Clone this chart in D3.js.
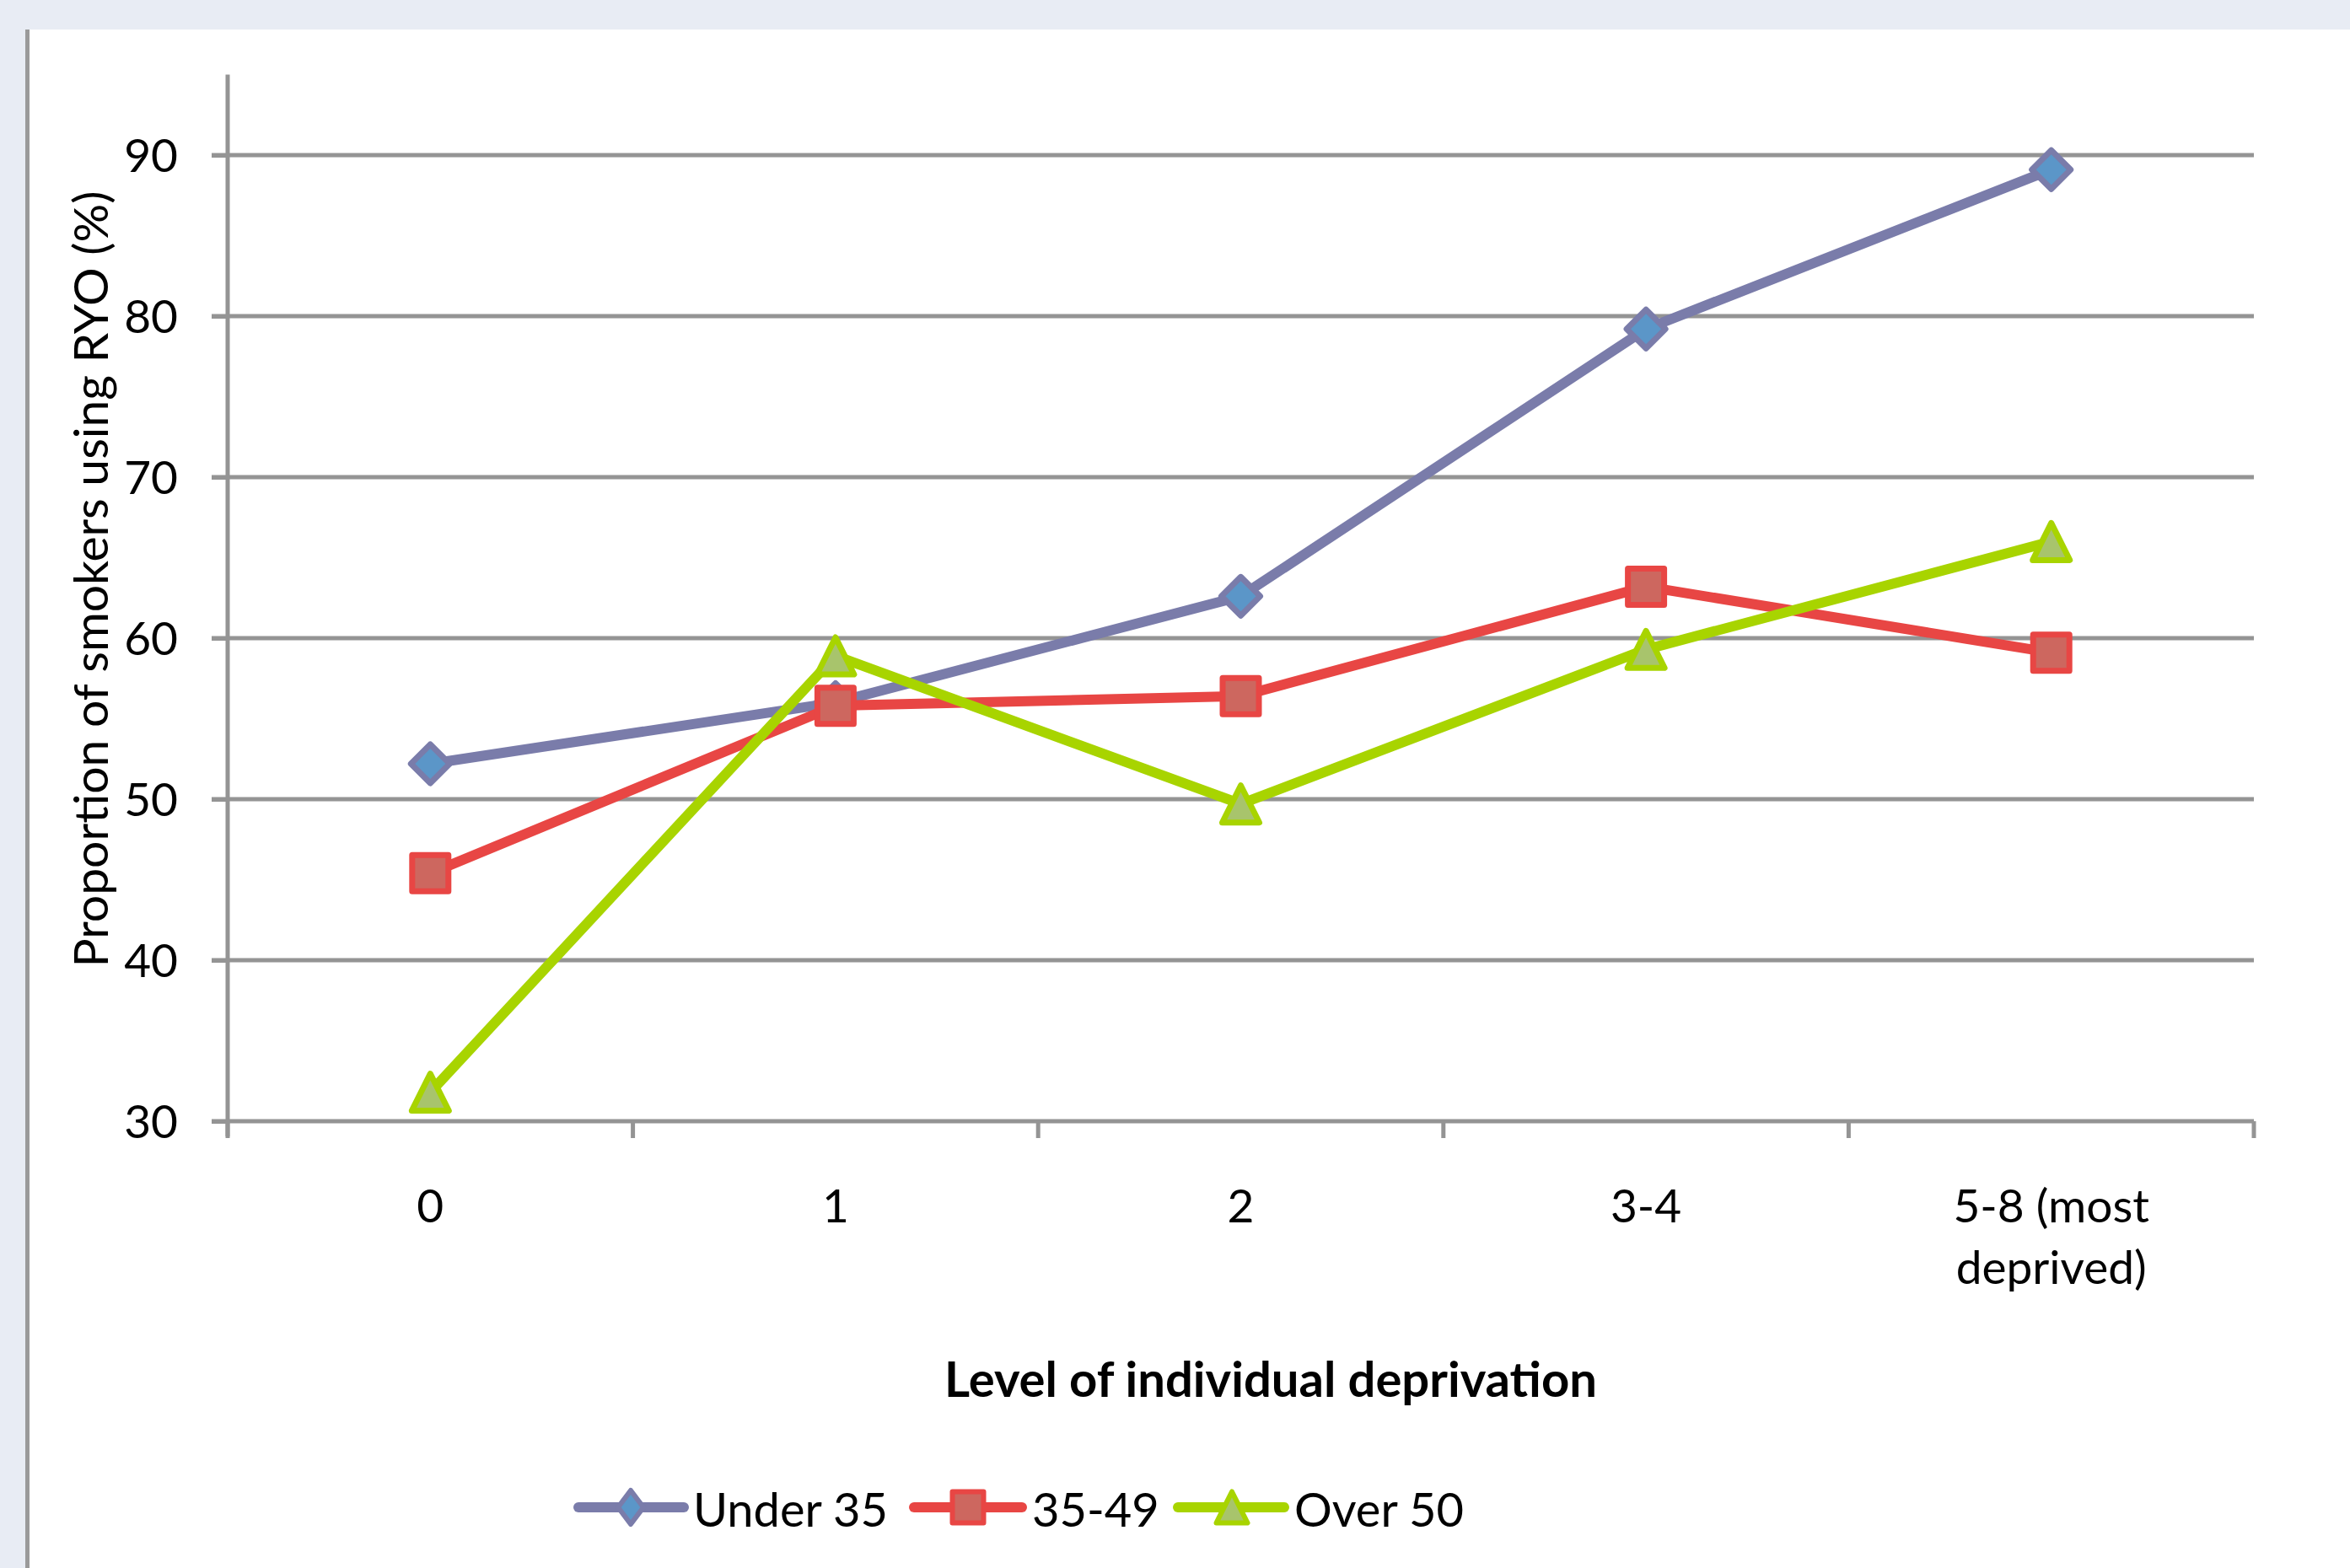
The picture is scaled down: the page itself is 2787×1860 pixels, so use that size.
<!DOCTYPE html>
<html>
<head>
<meta charset="utf-8">
<script src="https://cdn.jsdelivr.net/npm/d3@7"></script>
<style>
  html, body { margin: 0; padding: 0; background: #e8ecf4; }
  svg { display: block; }
  text { font-family: Lato, "Open Sans", sans-serif; fill: #000; }
</style>
</head>
<body>
<svg id="chart" width="2787" height="1860"></svg>
<script>
// ---- data ----
const categories = ["0", "1", "2", "3-4", "5-8 (most deprived)"];
const categoryLines = [["0"], ["1"], ["2"], ["3-4"], ["5-8 (most", "deprived)"]];
const seriesNames = ["Under 35", "35-49", "Over 50"];
const under35 = [52.2, 56.0, 62.6, 79.2, 89.1];
const age35to49 = [45.4, 55.8, 56.4, 63.2, 59.1];
const over50 = [31.8, 58.9, 49.7, 59.3, 66.0];
const yTicks = [30, 40, 50, 60, 70, 80, 90];
const yMin = 30, yMax = 95;
const yTitle = "Proportion of smokers using RYO (%)";
const xTitle = "Level of individual deprivation";

// ---- styles ----
const styles = [
  { line: "#7a7caa", fill: "#5b96c8", shape: "diamond" },
  { line: "#e84644", fill: "#cd675f", shape: "square" },
  { line: "#a8d400", fill: "#a8c46c", shape: "triangle" }
];
const seriesValues = [under35, age35to49, over50];

const svg = d3.select("#chart");
const W = 2787, H = 1860;

// background panel
svg.append("rect").attr("x", 0).attr("y", 0).attr("width", W).attr("height", H).attr("fill", "#e8ecf4");
svg.append("rect").attr("x", 35).attr("y", 35).attr("width", W - 35).attr("height", H - 35).attr("fill", "#ffffff");
svg.append("rect").attr("x", 30).attr("y", 35).attr("width", 5).attr("height", H - 35).attr("fill", "#9a9a9a");

const plotL = 270, plotR = 2673, plotT = 88.5, plotB = 1330;

const x = d3.scaleBand().domain(categories).range([plotL, plotR]).padding(0);
const y = d3.scaleLinear().domain([yMin, yMax]).range([plotB, plotT]);
const cx = d => x(d) + x.bandwidth() / 2;

const gridColor = "#949494";

// gridlines
svg.append("g").selectAll("line").data(yTicks).join("line")
  .attr("x1", plotL - 19).attr("x2", plotR)
  .attr("y1", d => y(d)).attr("y2", d => y(d))
  .attr("stroke", gridColor).attr("stroke-width", 5);

// y axis (labels via d3 axis)
const yAxis = svg.append("g").attr("transform", `translate(${plotL},0)`)
  .call(d3.axisLeft(y).tickValues(yTicks).tickSize(19).tickPadding(40).tickFormat(d3.format("d")));
yAxis.select(".domain").remove();
yAxis.selectAll(".tick line").attr("stroke", gridColor).attr("stroke-width", 5);
yAxis.selectAll(".tick text").attr("font-size", 55).attr("font-family", "Lato, sans-serif").attr("fill", "#000").attr("dy", "0.36em");

// y axis line
svg.append("line").attr("x1", plotL).attr("x2", plotL).attr("y1", y(yMax)).attr("y2", plotB + 18)
  .attr("stroke", gridColor).attr("stroke-width", 5);

// x axis ticks at band boundaries
const bounds = categories.map(c => x(c)).concat([x(categories[categories.length - 1]) + x.bandwidth()]);
svg.append("g").selectAll("line").data(bounds).join("line")
  .attr("x1", d => d).attr("x2", d => d).attr("y1", plotB).attr("y2", plotB + 20)
  .attr("stroke", gridColor).attr("stroke-width", 5);

// x category labels
const xl = svg.append("g").selectAll("text").data(categories).join("text")
  .attr("x", d => cx(d)).attr("y", 1450).attr("text-anchor", "middle").attr("font-size", 55);
xl.each(function (d, i) {
  const t = d3.select(this);
  categoryLines[i].forEach((ln, j) => {
    t.append("tspan").attr("x", cx(d)).attr("dy", j === 0 ? 0 : 73).text(ln);
  });
});

// axis titles
svg.append("text").attr("transform", `translate(128,${687}) rotate(-90)`)
  .attr("text-anchor", "middle").attr("font-size", 57).text(yTitle);
svg.append("text").attr("x", 1507).attr("y", 1657).attr("text-anchor", "middle")
  .attr("font-size", 58).attr("font-weight", "bold").text(xTitle);

// marker shapes
function markerPath(shape, r, ry) {
  ry = ry || r;
  if (shape === "diamond") return `M0,${-ry}L${r},0L0,${ry}L${-r},0Z`;
  if (shape === "square") return `M${-r},${-r}H${r}V${r}H${-r}Z`;
  return `M0,${-r}L${r},${r}H${-r}Z`;
}
const markerR = { diamond: 23, square: 21.5, triangle: 22 };

// series
const lineGen = d3.line().x((d, i) => cx(categories[i])).y(d => y(d));
seriesValues.forEach((vals, s) => {
  const st = styles[s];
  const g = svg.append("g");
  g.append("path").datum(vals).attr("d", lineGen)
    .attr("fill", "none").attr("stroke", st.line).attr("stroke-width", 12).attr("stroke-linejoin", "round");
  g.selectAll("path.m").data(vals).join("path").attr("class", "m")
    .attr("transform", (d, i) => `translate(${cx(categories[i])},${y(d)})`)
    .attr("d", markerPath(st.shape, markerR[st.shape]))
    .attr("fill", st.fill).attr("stroke", st.line).attr("stroke-width", 7).attr("stroke-linejoin", "round");
});

// legend
const legendY = 1788;
const legendItems = [
  { x1: 686, x2: 811, mx: 748, tx: 822 },
  { x1: 1084, x2: 1212, mx: 1148, tx: 1224 },
  { x1: 1397, x2: 1523, mx: 1461, tx: 1535 }
];
seriesNames.forEach((name, s) => {
  const st = styles[s], li = legendItems[s];
  const g = svg.append("g");
  g.append("line").attr("x1", li.x1).attr("x2", li.x2).attr("y1", legendY).attr("y2", legendY)
    .attr("stroke", st.line).attr("stroke-width", 12).attr("stroke-linecap", "round");
  const r = st.shape === "diamond" ? 15 : 18.5;
  g.append("path").attr("transform", `translate(${li.mx},${legendY})`)
    .attr("d", markerPath(st.shape, r, st.shape === "diamond" ? 20 : r))
    .attr("fill", st.fill).attr("stroke", st.line).attr("stroke-width", 6).attr("stroke-linejoin", "round");
  g.append("text").attr("x", li.tx).attr("y", 1811).attr("font-size", 56).text(name);
});
</script>
</body>
</html>
